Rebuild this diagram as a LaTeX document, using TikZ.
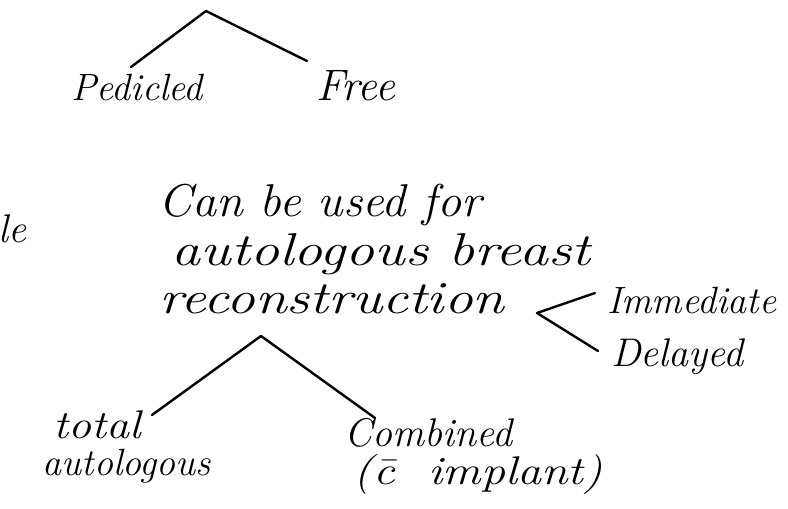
\documentclass[tikz,border=0pt]{standalone}
\usepackage{fontspec}
\begin{document}
\begin{tikzpicture}[x=1pt,y=-1pt,
  branch/.style={line width=2.4pt,line cap=round,line join=round},
  hand/.style={font=\fontsize{#1}{#1}\selectfont\itshape,inner sep=0pt}]
\useasboundingbox (0,0) rectangle (788,509);
\fill[white] (0,0) rectangle (788,509);
% upper split
\coordinate (topapex) at (206,11);
\coordinate (pedend) at (131,67);
\coordinate (freeend) at (307,61);
\node[hand=38] (pedicled) at (137,88) {Pedicled};
\node[hand=44] (free) at (356,86) {Free};
\draw[branch] (pedend) -- (topapex) -- (freeend);
% cut-off word at the left edge
\node[hand=40,anchor=east] (le) at (27,229) {le};
% main statement
\node[hand=46,xscale=1.05] (l1) at (320,205) {Can be used for};
\node[hand=46,xscale=1.26] (l2) at (381,254) {autologous breast};
\node[hand=46,xscale=1.25] (l3) at (332,299) {reconstruction};
% timing split
\coordinate (tvertex) at (537,313);
\coordinate (immend) at (595,293);
\coordinate (delend) at (598,351);
\draw[branch] (immend) -- (tvertex) -- (delend);
\node[hand=38,anchor=west] (imm) at (607,300) {Immediate};
\node[hand=40,anchor=west] (del) at (611,357) {Delayed};
% type split
\coordinate (bapex) at (261,336);
\coordinate (totend) at (152,415);
\coordinate (comend) at (375,418);
\draw[branch] (totend) -- (bapex) -- (comend);
\node[hand=40,xscale=1.15] (tot1) at (97,425) {total};
\node[hand=38] (tot2) at (127,466) {autologous};
\node[hand=40] (com1) at (428,433) {Combined};
\node[hand=40,xscale=1.2] (com2) at (478,475) {(\=c\ \ implant)};
\end{tikzpicture}
\end{document}
